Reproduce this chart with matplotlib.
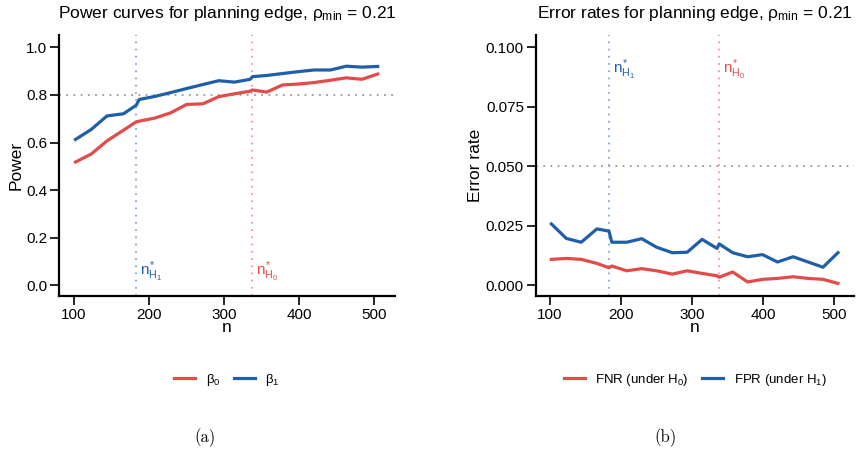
import matplotlib
matplotlib.use('Agg')
import matplotlib.pyplot as plt

plt.rcParams['font.family'] = ['Liberation Sans', 'DejaVu Sans']
plt.rcParams['mathtext.fontset'] = 'custom'
plt.rcParams['mathtext.rm'] = 'Liberation Sans'
plt.rcParams['mathtext.it'] = 'Liberation Sans'
plt.rcParams['mathtext.bf'] = 'Liberation Sans:bold'

# sample sizes (grid plus the two planning points n*_H1 and n*_H0)
n = [102, 123, 144, 166, 183, 187, 208, 229, 250, 272, 293, 314, 335, 338,
     357, 378, 399, 420, 442, 463, 484, 505]
n_h1 = 183
n_h0 = 338

# (a) power curves
beta0 = [0.518, 0.552, 0.607, 0.652, 0.687, 0.690, 0.703, 0.725, 0.760, 0.763, 0.793,
         0.805, 0.816, 0.821, 0.812, 0.842, 0.846, 0.852, 0.862, 0.872, 0.866, 0.888]
beta1 = [0.613, 0.655, 0.712, 0.721, 0.757, 0.781, 0.794, 0.810, 0.827, 0.844, 0.860,
         0.854, 0.866, 0.877, 0.882, 0.890, 0.898, 0.905, 0.905, 0.921, 0.917, 0.920]

# (b) error rates
fnr = [0.0109, 0.0113, 0.0109, 0.0092, 0.0074, 0.0081, 0.0061, 0.0070, 0.0061, 0.0047, 0.0061,
       0.0050, 0.0040, 0.0034, 0.0056, 0.0014, 0.0025, 0.0029, 0.0036, 0.0029, 0.0025, 0.0008]
fpr = [0.0258, 0.0197, 0.0181, 0.0237, 0.0228, 0.0181, 0.0181, 0.0196, 0.0160, 0.0137, 0.0139,
       0.0193, 0.0155, 0.0174, 0.0137, 0.0120, 0.0129, 0.0098, 0.0120, 0.0098, 0.0076, 0.0137]

red = '#e34a4a'
blue = '#1f5fa8'
red_light = '#f09a9a'
blue_light = '#7fa9dd'

fig = plt.figure(figsize=(8.61, 4.59), dpi=100)
ax1 = fig.add_axes([0.0685, 0.3551, 0.3902, 0.5686])
ax2 = fig.add_axes([0.6222, 0.3551, 0.3700, 0.5686])


def style(ax):
    for s in ['top', 'right']:
        ax.spines[s].set_visible(False)
    for s in ['left', 'bottom']:
        ax.spines[s].set_linewidth(1.6)
    ax.tick_params(axis='both', length=6.5, width=1.2, labelsize=11, pad=2)
    ax.set_xlim(80, 528)
    ax.set_xticks([100, 200, 300, 400, 500])


# ---- (a)
ax1.axhline(0.8, color='#999999', lw=1.3, ls=(0, (1, 3)))
ax1.axvline(n_h1, color=blue_light, lw=1.3, ls=(0, (1, 3)))
ax1.axvline(n_h0, color=red_light, lw=1.3, ls=(0, (1, 3)))
ax1.plot(n, beta0, color=red, lw=2.3, label=r'$\beta_0$')
ax1.plot(n, beta1, color=blue, lw=2.3, label=r'$\beta_1$')
ax1.text(n_h1 + 5, 0.056, r'$n^{*}_{H_1}$', color=blue, fontsize=11, ha='left', va='center')
ax1.text(n_h0 + 5, 0.056, r'$n^{*}_{H_0}$', color=red, fontsize=11, ha='left', va='center')
style(ax1)
ax1.set_ylim(-0.045, 1.052)
ax1.set_yticks([0.0, 0.2, 0.4, 0.6, 0.8, 1.0])
ax1.set_yticklabels(['0.0', '0.2', '0.4', '0.6', '0.8', '1.0'])
ax1.set_xlabel('n', fontsize=12.5, labelpad=-1)
ax1.set_ylabel('Power', fontsize=12.5, labelpad=2)
ax1.text(0.5, 1.084, r'Power curves for planning edge, $\rho_{\mathrm{min}}$ = 0.21',
         transform=ax1.transAxes, ha='center', va='center', fontsize=12.5)
ax1.legend(loc='center', bbox_to_anchor=(0.5, -0.32), ncol=2, frameon=False,
           fontsize=9.5, handlelength=1.6, columnspacing=1.0, handletextpad=0.8)

# ---- (b)
ax2.axhline(0.05, color='#999999', lw=1.3, ls=(0, (1, 3)))
ax2.axvline(n_h1, color=blue_light, lw=1.3, ls=(0, (1, 3)))
ax2.axvline(n_h0, color=red_light, lw=1.3, ls=(0, (1, 3)))
ax2.plot(n, fnr, color=red, lw=2.3, label=r'FNR (under $H_0$)')
ax2.plot(n, fpr, color=blue, lw=2.3, label=r'FPR (under $H_1$)')
ax2.text(n_h1 + 5, 0.0905, r'$n^{*}_{H_1}$', color=blue, fontsize=11, ha='left', va='center')
ax2.text(n_h0 + 5, 0.0905, r'$n^{*}_{H_0}$', color=red, fontsize=11, ha='left', va='center')
style(ax2)
ax2.set_ylim(-0.0045, 0.1052)
ax2.set_yticks([0.0, 0.025, 0.05, 0.075, 0.1])
ax2.set_yticklabels(['0.000', '0.025', '0.050', '0.075', '0.100'])
ax2.set_xlabel('n', fontsize=12.5, labelpad=-1)
ax2.set_ylabel('Error rate', fontsize=12.5, labelpad=2)
ax2.text(0.5, 1.084, r'Error rates for planning edge, $\rho_{\mathrm{min}}$ = 0.21',
         transform=ax2.transAxes, ha='center', va='center', fontsize=12.5)
ax2.legend(loc='center', bbox_to_anchor=(0.5, -0.32), ncol=2, frameon=False,
           fontsize=9.5, handlelength=1.6, columnspacing=1.0, handletextpad=0.8)

fig.text(205 / 861, 1 - 438 / 459, '(a)', fontfamily='cmr10', fontsize=12, ha='center', va='center')
fig.text(665 / 861, 1 - 438 / 459, '(b)', fontfamily='cmr10', fontsize=12, ha='center', va='center')

fig.savefig('out.png', dpi=100)
